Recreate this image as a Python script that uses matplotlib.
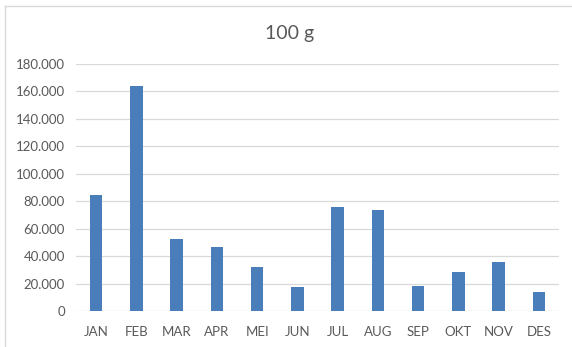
import matplotlib
matplotlib.use("Agg")
import matplotlib.pyplot as plt
from matplotlib.ticker import FuncFormatter
from matplotlib.lines import Line2D

months = ["JAN", "FEB", "MAR", "APR", "MEI", "JUN", "JUL", "AUG", "SEP", "OKT", "NOV", "DES"]
values = [84500, 164300, 52200, 46600, 32300, 17700, 75600, 73400, 18400, 28400, 35700, 14100]
yticks = [0, 20000, 40000, 60000, 80000, 100000, 120000, 140000, 160000, 180000]
title = "100 g"

plt.rcParams['font.family'] = ['Lato', 'DejaVu Sans']
W, H = 572, 347
fig = plt.figure(figsize=(W / 100, H / 100), dpi=100)
ax = fig.add_axes([76 / W, (H - 311) / H, (559 - 76) / W, (311 - 64) / H])

x = list(range(len(months)))
ax.bar(x, values, width=0.31, color="#4a7ebb", zorder=3)
ax.set_xlim(-0.5, len(months) - 0.5)
ax.set_ylim(0, 180000)
ax.set_yticks(yticks)
ax.yaxis.set_major_formatter(FuncFormatter(lambda v, p: f"{int(v):,}".replace(",", ".")))
ax.set_xticks(x)
ax.set_xticklabels(months)
ax.grid(axis="y", color="#d9d9d9", linewidth=0.9, zorder=0)
for s in ax.spines.values():
    s.set_visible(False)
ax.tick_params(axis="both", length=0, labelsize=9.5, labelcolor="#595959")
ax.tick_params(axis="y", pad=8)
ax.tick_params(axis="x", pad=11)

fig.text(290 / W, 1 - 33 / H, title, ha="center", va="center", fontsize=14, color="#595959")

# chart border (top & left visible)
fig.add_artist(Line2D([5 / W, 5 / W], [0, 1 - 6 / H], color="#d9d9d9", linewidth=1.0, transform=fig.transFigure))
fig.add_artist(Line2D([5 / W, 1], [1 - 6 / H, 1 - 6 / H], color="#d9d9d9", linewidth=1.0, transform=fig.transFigure))

fig.savefig("out.png", dpi=100)
